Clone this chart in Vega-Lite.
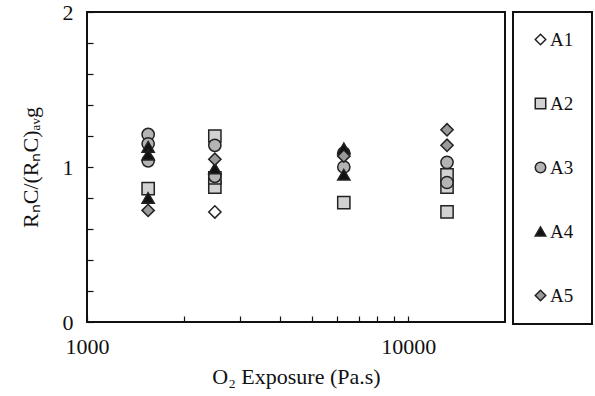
{
  "$schema": "https://vega.github.io/schema/vega-lite/v6.json",
  "width": 418,
  "height": 310,
  "autosize": "none",
  "padding": {"left": 87, "top": 12, "right": 90, "bottom": 74},
  "background": "white",
  "config": {
    "view": {"stroke": "#111", "strokeWidth": 2},
    "font": "Times New Roman",
    "legend": {"strokeWidth": 2}
  },
  "data": {
    "values": [
      {"exposure": 2500, "value": 0.71, "series": "A1"},
      {"exposure": 1550, "value": 0.86, "series": "A2"},
      {"exposure": 2500, "value": 1.20, "series": "A2"},
      {"exposure": 2500, "value": 0.87, "series": "A2"},
      {"exposure": 2500, "value": 0.93, "series": "A2"},
      {"exposure": 6300, "value": 0.77, "series": "A2"},
      {"exposure": 13200, "value": 0.95, "series": "A2"},
      {"exposure": 13200, "value": 0.87, "series": "A2"},
      {"exposure": 13200, "value": 0.71, "series": "A2"},
      {"exposure": 1550, "value": 1.21, "series": "A3"},
      {"exposure": 1550, "value": 1.15, "series": "A3"},
      {"exposure": 1550, "value": 1.04, "series": "A3"},
      {"exposure": 2500, "value": 1.14, "series": "A3"},
      {"exposure": 2500, "value": 0.94, "series": "A3"},
      {"exposure": 6300, "value": 1.09, "series": "A3"},
      {"exposure": 6300, "value": 1.00, "series": "A3"},
      {"exposure": 13200, "value": 1.03, "series": "A3"},
      {"exposure": 13200, "value": 0.90, "series": "A3"},
      {"exposure": 1550, "value": 1.13, "series": "A4"},
      {"exposure": 1550, "value": 1.08, "series": "A4"},
      {"exposure": 1550, "value": 0.80, "series": "A4"},
      {"exposure": 2500, "value": 0.99, "series": "A4"},
      {"exposure": 6300, "value": 1.12, "series": "A4"},
      {"exposure": 6300, "value": 0.95, "series": "A4"},
      {"exposure": 1550, "value": 0.72, "series": "A5"},
      {"exposure": 2500, "value": 1.05, "series": "A5"},
      {"exposure": 6300, "value": 1.07, "series": "A5"},
      {"exposure": 13200, "value": 1.24, "series": "A5"},
      {"exposure": 13200, "value": 1.14, "series": "A5"}
    ]
  },
  "mark": {"type": "point", "filled": true, "strokeWidth": 1.5, "opacity": 1, "size": 150},
  "encoding": {
    "x": {
      "field": "exposure",
      "type": "quantitative",
      "scale": {"type": "log", "domain": [1000, 20000], "nice": false},
      "axis": {
        "title": "O₂  Exposure (Pa.s)",
        "titleFont": "Times New Roman",
        "titleFontSize": 22,
        "titleFontWeight": "normal",
        "titleColor": "#111",
        "titlePadding": 9,
        "values": [1000, 2000, 3000, 4000, 5000, 6000, 7000, 8000, 9000, 10000],
        "labelExpr": "datum.value == 1000 || datum.value == 10000 ? format(datum.value, 'd') : ''",
        "labelFont": "Times New Roman",
        "labelFontSize": 22,
        "labelColor": "#111",
        "labelPadding": 20,
        "tickSize": -6,
        "tickColor": "#111",
        "tickWidth": 1.2,
        "domain": false,
        "grid": false,
        "labelFlush": false,
        "labelOverlap": false
      }
    },
    "y": {
      "field": "value",
      "type": "quantitative",
      "scale": {"domain": [0, 2], "nice": false},
      "axis": {
        "title": "RₙC/(RₙC)ₐᵥg",
        "titleFont": "Times New Roman",
        "titleFontSize": 22,
        "titleFontWeight": "normal",
        "titleColor": "#111",
        "titlePadding": 20,
        "values": [0, 0.2, 0.4, 0.6, 0.8, 1, 1.2, 1.4, 1.6, 1.8, 2],
        "labelExpr": "abs(datum.value - round(datum.value)) < 0.001 ? format(datum.value, 'd') : ''",
        "labelFont": "Times New Roman",
        "labelFontSize": 22,
        "labelColor": "#111",
        "labelPadding": 20,
        "tickSize": -6,
        "tickColor": "#111",
        "tickWidth": 1.2,
        "domain": false,
        "grid": false,
        "labelOverlap": false
      }
    },
    "shape": {
      "field": "series",
      "type": "nominal",
      "scale": {"domain": ["A1", "A2", "A3", "A4", "A5"], "range": ["diamond", "square", "circle", "triangle-up", "diamond"]},
      "legend": {
        "title": null,
        "orient": "none",
        "legendX": 426,
        "legendY": 0,
        "direction": "vertical",
        "padding": 18,
        "rowPadding": 44,
        "strokeColor": "#111",
        "fillColor": "white",
        "labelFont": "Times New Roman",
        "labelFontSize": 19,
        "labelColor": "#111",
        "labelOffset": 0,
        "symbolSize": 110,
        "symbolStrokeWidth": 1.5,
        "symbolOpacity": 1
      }
    },
    "fill": {
      "field": "series",
      "type": "nominal",
      "scale": {"domain": ["A1", "A2", "A3", "A4", "A5"], "range": ["#ffffff", "#d2d2d2", "#b4b4b4", "#111111", "#9a9a9a"]},
      "legend": {
        "title": null,
        "orient": "none",
        "legendX": 426,
        "legendY": 0,
        "direction": "vertical",
        "padding": 18,
        "rowPadding": 44,
        "strokeColor": "#111",
        "fillColor": "white",
        "labelFont": "Times New Roman",
        "labelFontSize": 19,
        "labelColor": "#111",
        "labelOffset": 0,
        "symbolSize": 110,
        "symbolStrokeWidth": 1.5,
        "symbolOpacity": 1
      }
    },
    "stroke": {
      "field": "series",
      "type": "nominal",
      "scale": {"domain": ["A1", "A2", "A3", "A4", "A5"], "range": ["#222222", "#222222", "#222222", "#222222", "#222222"]},
      "legend": {
        "title": null,
        "orient": "none",
        "legendX": 426,
        "legendY": 0,
        "direction": "vertical",
        "padding": 18,
        "rowPadding": 44,
        "strokeColor": "#111",
        "fillColor": "white",
        "labelFont": "Times New Roman",
        "labelFontSize": 19,
        "labelColor": "#111",
        "labelOffset": 0,
        "symbolSize": 110,
        "symbolStrokeWidth": 1.5,
        "symbolOpacity": 1
      }
    }
  }
}
